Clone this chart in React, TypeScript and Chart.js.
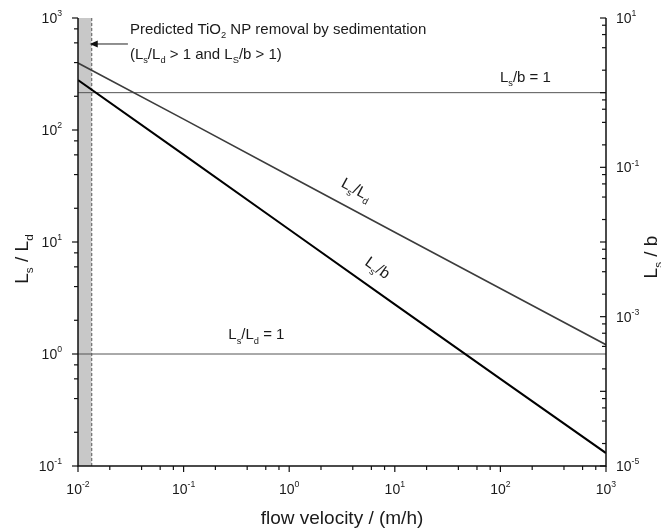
import React, { useEffect, useRef } from "react";
import { Chart, registerables } from "chart.js";

Chart.register(...registerables);

// ---- data ----
const velocity = [0.01, 0.1, 1, 10, 100, 1000];
const lsOverLd = [396, 125, 39.1, 12.2, 3.84, 1.21];
const velocityB = [0.01, 0.1, 1, 10, 100, 1000];
const lsOverB = [1.48, 0.148, 0.0147, 0.00146, 0.000147, 0.0000149];
const xRange = [0.01, 1000];
const shadeEdge = 0.0135;
const leftRange = [0.1, 1000];
const rightRange = [0.00001, 10];
const xTickExps = [-2, -1, 0, 1, 2, 3];
const leftTickExps = [-1, 0, 1, 2, 3];
const rightTickExps = [-5, -4, -3, -2, -1, 0, 1];
const rightLabelExps = [-5, -3, -1, 1];
const minorMult = [2, 4, 6, 8];

const FONT = "'Liberation Sans', Arial, Helvetica, sans-serif";
type Seg = { t: string; sub?: boolean; sup?: boolean };

function segWidth(ctx: CanvasRenderingContext2D, segs: Seg[], size: number) {
  let w = 0;
  for (const s of segs) {
    const fs = s.sub || s.sup ? size * 0.62 : size;
    ctx.font = `${fs}px ${FONT}`;
    w += ctx.measureText(s.t).width;
  }
  return w;
}

function drawRich(
  ctx: CanvasRenderingContext2D,
  segs: Seg[],
  x: number,
  y: number,
  size: number,
  align: "left" | "center" | "right" = "left"
) {
  const w = segWidth(ctx, segs, size);
  let cx = align === "left" ? x : align === "center" ? x - w / 2 : x - w;
  ctx.textBaseline = "alphabetic";
  ctx.textAlign = "left";
  for (const s of segs) {
    const fs = s.sub || s.sup ? size * 0.62 : size;
    ctx.font = `${fs}px ${FONT}`;
    const dy = s.sub ? size * 0.28 : s.sup ? -size * 0.48 : 0;
    ctx.fillText(s.t, cx, y + dy);
    cx += ctx.measureText(s.t).width;
  }
}

const pow10Label = (e: number): Seg[] => [{ t: "10" }, { t: String(e), sup: true }];

const overlayPlugin = {
  id: "overlay",
  afterDatasetsDraw(chart: any) {
    const ctx: CanvasRenderingContext2D = chart.ctx;
    const xs = chart.scales.x;
    const yl = chart.scales.y;
    const yr = chart.scales.y2;
    const { left, right, top, bottom } = chart.chartArea;
    ctx.save();
    ctx.fillStyle = "#1a1a1a";
    ctx.strokeStyle = "#111";

    // axis lines
    ctx.lineWidth = 1.5;
    ctx.beginPath();
    ctx.moveTo(left, top);
    ctx.lineTo(left, bottom);
    ctx.lineTo(right, bottom);
    ctx.lineTo(right, top);
    ctx.stroke();

    ctx.lineWidth = 1.2;
    // x ticks (outward, down)
    xTickExps.forEach((e, i) => {
      const px = xs.getPixelForValue(Math.pow(10, e));
      ctx.beginPath();
      ctx.moveTo(px, bottom);
      ctx.lineTo(px, bottom + 6);
      ctx.stroke();
      if (i < xTickExps.length - 1) {
        minorMult.forEach((m) => {
          const mx = xs.getPixelForValue(m * Math.pow(10, e));
          ctx.beginPath();
          ctx.moveTo(mx, bottom);
          ctx.lineTo(mx, bottom + 4);
          ctx.stroke();
        });
      }
      const segs = pow10Label(e);
      const w = segWidth(ctx, segs, 14);
      drawRich(ctx, segs, px - w / 2, bottom + 28, 14, "left");
    });

    // left ticks (outward, left)
    leftTickExps.forEach((e, i) => {
      const py = yl.getPixelForValue(Math.pow(10, e));
      ctx.beginPath();
      ctx.moveTo(left, py);
      ctx.lineTo(left - 6, py);
      ctx.stroke();
      if (i < leftTickExps.length - 1) {
        minorMult.forEach((m) => {
          const my = yl.getPixelForValue(m * Math.pow(10, e));
          ctx.beginPath();
          ctx.moveTo(left, my);
          ctx.lineTo(left - 4, my);
          ctx.stroke();
        });
      }
      drawRich(ctx, pow10Label(e), left - 16, py + 5, 14, "right");
    });

    // right ticks (inward, left)
    rightTickExps.forEach((e, i) => {
      const py = yr.getPixelForValue(Math.pow(10, e));
      ctx.beginPath();
      ctx.moveTo(right, py);
      ctx.lineTo(right - 6, py);
      ctx.stroke();
      if (i < rightTickExps.length - 1) {
        minorMult.forEach((m) => {
          const my = yr.getPixelForValue(m * Math.pow(10, e));
          ctx.beginPath();
          ctx.moveTo(right, my);
          ctx.lineTo(right - 4, my);
          ctx.stroke();
        });
      }
      if (rightLabelExps.includes(e)) {
        drawRich(ctx, pow10Label(e), right + 10, py + 5, 14, "left");
      }
    });

    // axis titles
    ctx.fillStyle = "#1a1a1a";
    drawRich(ctx, [{ t: "flow velocity / (m/h)" }], (left + right) / 2, 524, 19, "center");

    ctx.save();
    ctx.translate(28, (top + bottom) / 2 + 17);
    ctx.rotate(-Math.PI / 2);
    drawRich(ctx, [{ t: "L" }, { t: "s", sub: true }, { t: " / L" }, { t: "d", sub: true }], 0, 0, 19, "center");
    ctx.restore();

    ctx.save();
    ctx.translate(657, (top + bottom) / 2 + 15);
    ctx.rotate(-Math.PI / 2);
    drawRich(ctx, [{ t: "L" }, { t: "s", sub: true }, { t: " / b" }], 0, 0, 19, "center");
    ctx.restore();

    // annotation texts
    const tx = xs.getPixelForValue(0.031);
    drawRich(
      ctx,
      [{ t: "Predicted TiO" }, { t: "2", sub: true }, { t: " NP removal by sedimentation" }],
      tx,
      yl.getPixelForValue(720),
      15,
      "left"
    );
    drawRich(
      ctx,
      [
        { t: "(L" }, { t: "s", sub: true }, { t: "/L" }, { t: "d", sub: true },
        { t: " > 1 and L" }, { t: "S", sub: true }, { t: "/b > 1)" },
      ],
      tx,
      yl.getPixelForValue(430),
      15,
      "left"
    );
    drawRich(
      ctx,
      [{ t: "L" }, { t: "s", sub: true }, { t: "/b = 1" }],
      xs.getPixelForValue(99),
      yl.getPixelForValue(268),
      15,
      "left"
    );
    drawRich(
      ctx,
      [{ t: "L" }, { t: "s", sub: true }, { t: "/L" }, { t: "d", sub: true }, { t: " = 1" }],
      xs.getPixelForValue(0.265),
      yl.getPixelForValue(1.35),
      15,
      "left"
    );

    // rotated line labels
    const angLd = Math.atan2(
      yl.getPixelForValue(lsOverLd[4]) - yl.getPixelForValue(lsOverLd[1]),
      xs.getPixelForValue(velocity[4]) - xs.getPixelForValue(velocity[1])
    );
    ctx.save();
    ctx.translate(xs.getPixelForValue(4.3), yl.getPixelForValue(29));
    ctx.rotate(angLd);
    drawRich(ctx, [{ t: "L" }, { t: "s", sub: true }, { t: "/L" }, { t: "d", sub: true }], 0, 4, 15.5, "center");
    ctx.restore();

    const angB = Math.atan2(
      yr.getPixelForValue(lsOverB[3]) - yr.getPixelForValue(lsOverB[1]),
      xs.getPixelForValue(velocityB[3]) - xs.getPixelForValue(velocityB[1])
    );
    ctx.save();
    ctx.translate(xs.getPixelForValue(6.8), yl.getPixelForValue(5.8));
    ctx.rotate(angB);
    drawRich(ctx, [{ t: "L" }, { t: "s", sub: true }, { t: "/b" }], 0, 4, 15.5, "center");
    ctx.restore();

    // arrow
    const ay = yl.getPixelForValue(586);
    const ax0 = xs.getPixelForValue(0.0297);
    const ax1 = xs.getPixelForValue(shadeEdge) - 2;
    ctx.strokeStyle = "#222";
    ctx.lineWidth = 1;
    ctx.beginPath();
    ctx.moveTo(ax0, ay);
    ctx.lineTo(ax1 + 6, ay);
    ctx.stroke();
    ctx.fillStyle = "#111";
    ctx.beginPath();
    ctx.moveTo(ax1, ay);
    ctx.lineTo(ax1 + 8, ay - 3.5);
    ctx.lineTo(ax1 + 8, ay + 3.5);
    ctx.closePath();
    ctx.fill();

    ctx.restore();
  },
};

export default function App() {
  const ref = useRef<HTMLCanvasElement>(null);
  useEffect(() => {
    if (!ref.current) return;
    const chart = new Chart(ref.current, {
      type: "line",
      data: {
        datasets: [
          {
            label: "Ls/b",
            data: velocityB.map((v, i) => ({ x: v, y: lsOverB[i] })),
            yAxisID: "y2",
            borderColor: "#000",
            borderWidth: 2,
            pointRadius: 0,
            fill: false,
            order: 1,
          },
          {
            label: "Ls/Ld",
            data: velocity.map((v, i) => ({ x: v, y: lsOverLd[i] })),
            yAxisID: "y",
            borderColor: "#3c3c3c",
            borderWidth: 1.6,
            pointRadius: 0,
            fill: false,
            order: 2,
          },
          {
            label: "Ls/b = 1",
            data: xRange.map((v) => ({ x: v, y: 1 })),
            yAxisID: "y2",
            borderColor: "#555",
            borderWidth: 1,
            pointRadius: 0,
            fill: false,
            order: 3,
          },
          {
            label: "Ls/Ld = 1",
            data: xRange.map((v) => ({ x: v, y: 1 })),
            yAxisID: "y",
            borderColor: "#555",
            borderWidth: 1,
            pointRadius: 0,
            fill: false,
            order: 4,
          },
          {
            label: "edge",
            data: leftRange.map((v) => ({ x: shadeEdge, y: v })),
            yAxisID: "y",
            borderColor: "#555",
            borderWidth: 1,
            borderDash: [3, 2],
            pointRadius: 0,
            fill: false,
            order: 5,
          },
          {
            label: "shade",
            data: [xRange[0], shadeEdge].map((v) => ({ x: v, y: leftRange[1] })),
            yAxisID: "y",
            borderWidth: 0,
            borderColor: "rgba(0,0,0,0)",
            backgroundColor: "#c8c8c8",
            pointRadius: 0,
            fill: "start",
            order: 10,
          },
        ],
      },
      options: {
        animation: false,
        responsive: true,
        maintainAspectRatio: false,
        layout: { padding: { left: 78, top: 18, right: 55, bottom: 64 } },
        plugins: { legend: { display: false }, tooltip: { enabled: false } },
        scales: {
          x: { type: "logarithmic", min: xRange[0], max: xRange[1], display: false },
          y: { type: "logarithmic", min: leftRange[0], max: leftRange[1], display: false },
          y2: { type: "logarithmic", min: rightRange[0], max: rightRange[1], display: false, position: "right" },
        },
      },
      plugins: [overlayPlugin],
    });
    return () => chart.destroy();
  }, []);
  return (
    <div style={{ position: "fixed", left: 0, top: 0, width: 661, height: 530, background: "#fff" }}>
      <canvas ref={ref} />
    </div>
  );
}
